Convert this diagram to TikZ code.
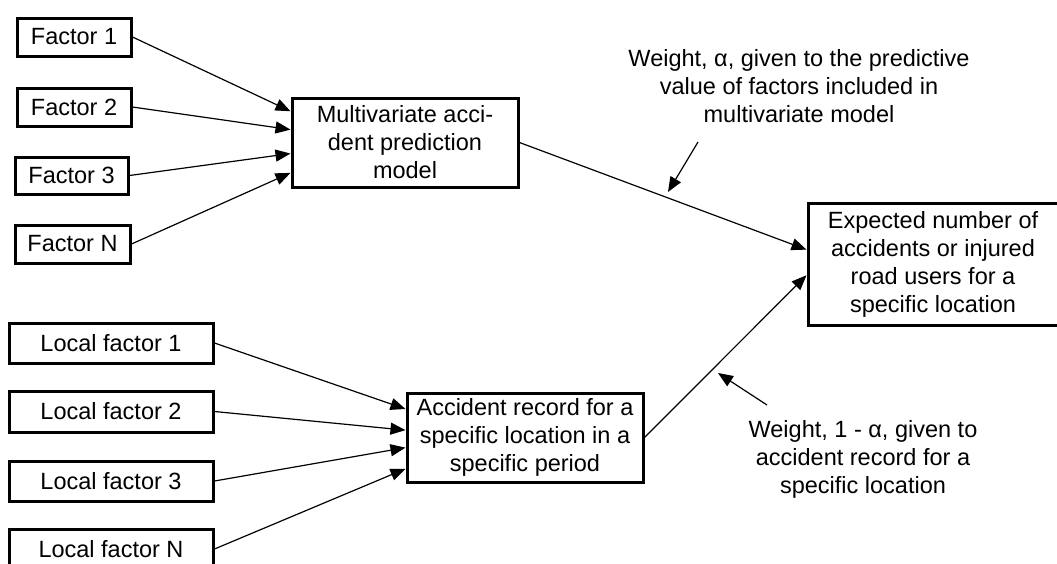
\documentclass[tikz,border=0pt]{standalone}
\usepackage{fontspec}
\setmainfont{Liberation Sans}
\usetikzlibrary{arrows.meta,calc}
\begin{document}
\begin{tikzpicture}[x=1pt,y=-1pt,
  every node/.style={font=\fontsize{23.5}{28}\selectfont},
  box/.style={draw=black,line width=3pt,fill=white,inner sep=0pt,align=center},
  conn/.style={line width=1.2pt,-{Triangle[length=15pt,width=12pt]}},
  lbl/.style={align=center,inner sep=0pt}]
\useasboundingbox (0,0) rectangle (1057,563);
\node[box,minimum width=114pt,minimum height=38pt] (f1) at (74,37) {Factor 1};
\node[box,minimum width=114pt,minimum height=38pt] (f2) at (74,107) {Factor 2};
\node[box,minimum width=113pt,minimum height=37pt] (f3) at (71.5,175.5) {Factor 3};
\node[box,minimum width=115pt,minimum height=38pt] (fn) at (72.5,244) {Factor N};
\node[box,minimum width=226pt,minimum height=89pt] (m) at (405,142.5) {Multivariate acci-\\dent prediction\\model};
\node[box,minimum width=250pt,minimum height=122pt] (e) at (933,264) {Expected number of\\accidents or injured\\road users for a\\specific location};
\node[box,minimum width=204pt,minimum height=40pt] (l1) at (111,343) {Local factor 1};
\node[box,minimum width=204pt,minimum height=41pt] (l2) at (111,411.5) {Local factor 2};
\node[box,minimum width=204pt,minimum height=40pt] (l3) at (111,481) {Local factor 3};
\node[box,minimum width=204pt,minimum height=40pt] (ln) at (111,549) {Local factor N};
\node[box,minimum width=236pt,minimum height=89pt] (a) at (525,437.5) {Accident record for a\\specific location in a\\specific period};
\node[lbl] (w1) at (799,86) {Weight, α, given to the predictive\\value of factors included in\\multivariate model};
\node[lbl] (w2) at (863,459) {Weight, 1 - α, given to\\accident record for a\\specific location};
\draw[conn] (f1.east) -- ($(m.north west)!0.16!(m.south west)$);
\draw[conn] (f2.east) -- ($(m.north west)!0.36!(m.south west)$);
\draw[conn] (f3.east) -- ($(m.north west)!0.62!(m.south west)$);
\draw[conn] (fn.east) -- ($(m.north west)!0.83!(m.south west)$);
\draw[conn] (l1.east) -- ($(a.north west)!0.19!(a.south west)$);
\draw[conn] (l2.east) -- ($(a.north west)!0.42!(a.south west)$);
\draw[conn] (l3.east) -- ($(a.north west)!0.61!(a.south west)$);
\draw[conn] (ln.east) -- ($(a.north west)!0.84!(a.south west)$);
\draw[conn] (m.east) -- ($(e.north west)!0.385!(e.south west)$);
\draw[conn] (a.east) -- ($(e.north west)!0.59!(e.south west)$);
\coordinate (p1s) at (698,142);
\coordinate (p1e) at (668,192);
\coordinate (p2s) at (767,405);
\coordinate (p2e) at (718,373);
\draw[conn] (p1s) -- (p1e);
\draw[conn] (p2s) -- (p2e);
\end{tikzpicture}
\end{document}
